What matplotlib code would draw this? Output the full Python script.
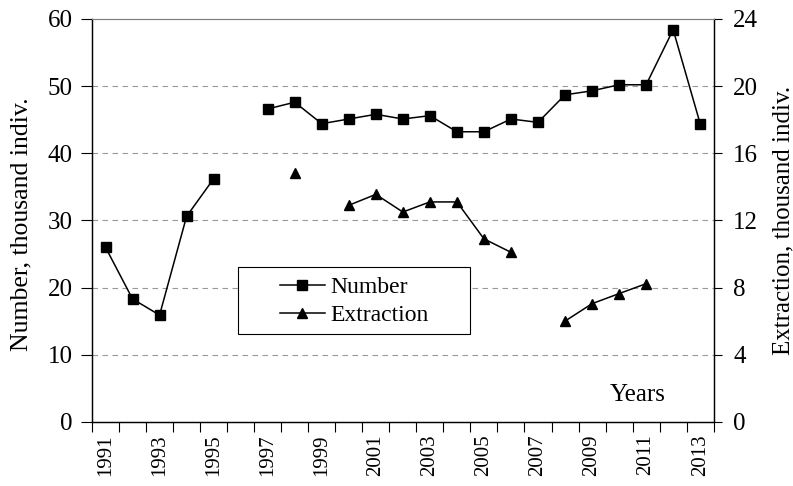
import matplotlib.pyplot as plt
import numpy as np
from matplotlib.patches import Rectangle

plt.rcParams["font.family"] = ["Liberation Serif", "DejaVu Serif"]

years = list(range(1991, 2014))
number = [26.0, 18.3, 15.9, 30.6, 36.2, np.nan, 46.6, 47.6, 44.4, 45.1, 45.8, 45.1,
          45.6, 43.2, 43.2, 45.1, 44.6, 48.7, 49.3, 50.2, 50.2, 58.4, 44.4]
extraction = [np.nan, np.nan, np.nan, np.nan, np.nan, np.nan, np.nan, 14.8, np.nan, 12.9, 13.55, 12.5,
              13.1, 13.1, 10.9, 10.1, np.nan, 6.0, 7.04, 7.64, 8.23, np.nan, np.nan]
left_ticks = [0, 10, 20, 30, 40, 50, 60]
right_ticks = [0, 4, 8, 12, 16, 20, 24]

fig = plt.figure(figsize=(7.93, 4.86), dpi=100)
ax = fig.add_axes([0.116, 0.132, 0.784, 0.829])
ax2 = ax.twinx()

x = np.arange(len(years))
l1, = ax.plot(x, number, color="black", marker="s", markersize=6.5, linewidth=1.1, label="Number")
l2, = ax2.plot(x, extraction, color="black", marker="^", markersize=7.5, linewidth=1.1, label="Extraction")

ax.set_xlim(-0.5, len(years) - 0.5)
ax.set_ylim(0, 60)
ax2.set_ylim(0, 24)
ax.set_yticks(left_ticks)
ax2.set_yticks(right_ticks)

# tick marks at category boundaries, labels at centres of odd years
ax.set_xticks(np.arange(-0.5, len(years)), labels=[])
ax.set_xticks(x[::2], labels=[str(y) for y in years[::2]], minor=True)
ax.tick_params(axis="x", which="major", direction="out", length=7, width=0.8)
ax.tick_params(axis="x", which="minor", length=0, labelsize=15, rotation=90, pad=9)
ax.tick_params(axis="y", direction="out", length=8, width=0.8, labelsize=18, pad=6)
ax2.tick_params(axis="y", direction="out", length=6, width=0.8, labelsize=18, pad=8)

for v in left_ticks[1:-1]:
    ax.axhline(v, color="#999999", linestyle=(0, (5, 4)), linewidth=0.8, zorder=0)

for a in (ax, ax2):
    a.spines["top"].set_color("#808080")
    a.spines["left"].set_linewidth(0.9)
    a.spines["right"].set_linewidth(0.9)
    a.spines["bottom"].set_linewidth(0.9)

ax.set_ylabel("Number, thousand indiv.", fontsize=18.5)
ax.yaxis.set_label_coords(-0.095, 0.49)
ax2.set_ylabel("Extraction, thousand indiv.", fontsize=18)
ax2.yaxis.set_label_coords(1.094, 0.5)
ax.text(0.878, 0.067, "Years", transform=ax.transAxes, fontsize=18, ha="center", va="center")

# legend box drawn by hand, Excel-style padding
ax.add_patch(Rectangle((0.235, 0.218), 0.373, 0.167, transform=ax.transAxes,
                       facecolor="white", edgecolor="black", linewidth=0.8, zorder=4))
leg = ax2.legend(handles=[l1, l2], loc="center left", bbox_to_anchor=(0.302, 0.299),
                 bbox_transform=ax.transAxes, fontsize=17, frameon=False,
                 borderpad=0, borderaxespad=0, handlelength=1.9, handletextpad=0.25,
                 labelspacing=0.3)

fig.savefig("out.png", dpi=100, facecolor="white")
